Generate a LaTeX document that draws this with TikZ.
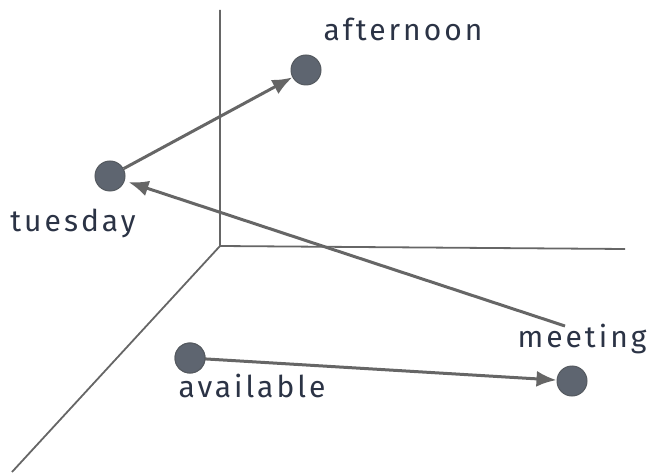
\documentclass[tikz,border=0pt]{standalone}
\usepackage{fontspec}
\setmainfont{Fira Sans}[LetterSpace=10]
\usetikzlibrary{arrows.meta}
\begin{document}
\begin{tikzpicture}[x=1pt,y=1pt,
  axis/.style={draw=black!60, line width=1.8pt},
  dot/.style={circle, fill=dotfill, draw=dotline, line width=1pt, minimum size=30pt, inner sep=0pt},
  word/.style={text=wordcol, font=\fontsize{30}{30}\selectfont, inner sep=0pt, anchor=base},
  vec/.style={draw=black!60, line width=3pt, -{Latex[length=20pt,width=16pt]}}]
\definecolor{dotfill}{HTML}{5E6570}
\definecolor{dotline}{HTML}{555A60}
\definecolor{wordcol}{HTML}{2B3345}
\useasboundingbox (0,0) rectangle (652,474);
% three axes meeting at a common origin
\coordinate (o) at (220,228);
\coordinate (ytop) at (220,464);
\coordinate (xend) at (625,225);
\coordinate (zend) at (12,2);
\draw[axis] (ytop) -- (o) -- (xend);
\draw[axis] (o) -- (zend);
% word points
\node[dot] (afternoon) at (306,404) {};
\node[dot] (tuesday) at (110,298) {};
\node[dot] (available) at (190,116) {};
\node[dot] (meeting) at (572,93) {};
% labels
\node[word] (lafternoon) at (403,433) {afternoon};
\node[word] (ltuesday) at (73,242) {tuesday};
\node[word] (lmeeting) at (582,127) {meeting};
\node[word] (lavailable) at (252,77) {available};
% vectors
\coordinate (mstart) at (565,148);
\draw[vec] (tuesday) -- (afternoon);
\draw[vec, shorten >=4pt] (mstart) -- (tuesday);
\draw[vec] (available.center) -- (meeting);
\node[dot] at (available) {};
\end{tikzpicture}
\end{document}
